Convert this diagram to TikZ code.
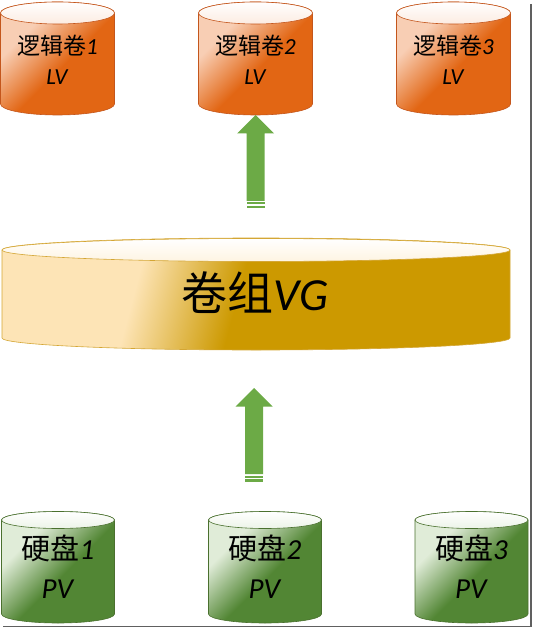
\documentclass[tikz,border=0pt]{standalone}
\usepackage{fontspec}
\setmainfont{Carlito}
\newfontfamily\cjk{Noto Sans CJK SC}
\definecolor{lvmain}{RGB}{226,102,20}
\definecolor{lvlight}{RGB}{248,206,180}
\definecolor{lvline}{RGB}{196,86,28}
\definecolor{vgmain}{RGB}{204,153,0}
\definecolor{vglight}{RGB}{253,228,182}
\definecolor{vgline}{RGB}{212,166,52}
\definecolor{pvmain}{RGB}{82,134,52}
\definecolor{pvlight}{RGB}{224,236,216}
\definecolor{pvline}{RGB}{74,112,46}
\definecolor{arrowgreen}{RGB}{108,170,70}
\definecolor{framegray}{RGB}{96,96,96}
\pgfdeclareverticalshading{lvshade}{100bp}{color(0bp)=(lvmain); color(46bp)=(lvmain); color(68bp)=(lvlight); color(100bp)=(lvlight)}
\pgfdeclareverticalshading{vgshade}{100bp}{color(0bp)=(vgmain); color(52bp)=(vgmain); color(64bp)=(vglight); color(100bp)=(vglight)}
\pgfdeclareverticalshading{pvshade}{100bp}{color(0bp)=(pvmain); color(46bp)=(pvmain); color(68bp)=(pvlight); color(100bp)=(pvlight)}
\tikzset{
  stripedup/.pic={
    \fill[arrowgreen] (0,0) -- (18.5,-18.5) -- (9,-18.5) -- (9,-86) -- (-9,-86) -- (-9,-18.5) -- (-18.5,-18.5) -- cycle;
    \fill[arrowgreen] (-9,-87.5) rectangle (9,-89.5);
    \fill[arrowgreen] (-9,-91) rectangle (9,-93.5);
  }
}
\begin{document}
\begin{tikzpicture}[x=1pt, y=1pt,
    lvbody/.style={shading=lvshade, shading angle=45, draw=lvline, line width=0.6pt},
    vgbody/.style={shading=vgshade, shading angle=75, draw=vgline, line width=0.6pt},
    pvbody/.style={shading=pvshade, shading angle=45, draw=pvline, line width=0.6pt},
    lvtext/.style={font=\fontsize{23}{26}\selectfont, inner sep=0pt},
    vgtext/.style={font=\fontsize{46}{52}\selectfont, inner sep=0pt},
    pvtext/.style={font=\fontsize{29}{33}\selectfont, inner sep=0pt}]
    \useasboundingbox (0,0) rectangle (534,-628);
    % logical volumes
    \foreach \i/\cx in {1/57.5, 2/255.5, 3/453.5} {
        \shade[lvbody] (\cx-57,-13) -- (\cx-57,-104) arc[start angle=180, end angle=360, x radius=57, y radius=11]
            -- (\cx+57,-13) arc[start angle=0, end angle=180, x radius=57, y radius=11] -- cycle;
        \shade[draw=lvline, line width=0.6pt, top color=white, bottom color=lvlight!40] (\cx,-13) ellipse[x radius=57, y radius=11];
        \node[lvtext] (lvname\i) at (\cx,-46) {{\cjk 逻辑卷}\textit{\i}};
        \node[lvtext] (lvtag\i) at (\cx,-77) {\textit{LV}};
    }
    \coordinate (lv2bot) at (255.5,-115);
    % volume group
    \shade[vgbody] (2,-250) -- (2,-338) arc[start angle=180, end angle=360, x radius=254, y radius=12]
        -- (510,-250) arc[start angle=0, end angle=180, x radius=254, y radius=12] -- cycle;
    \shade[draw=vgline, line width=0.6pt, top color=white, bottom color=vglight!40] (256,-250) ellipse[x radius=254, y radius=11.5];
    \node[vgtext] (vglabel) at (255,-293) {{\cjk 卷组}\textit{VG}};
    \coordinate (vgbot) at (254,-350);
    % physical volumes
    \foreach \i/\cx in {1/58, 2/265, 3/471.5} {
        \shade[pvbody] (\cx-56.5,-520) -- (\cx-56.5,-614) arc[start angle=180, end angle=360, x radius=56.5, y radius=9]
            -- (\cx+56.5,-520) arc[start angle=0, end angle=180, x radius=56.5, y radius=8.5] -- cycle;
        \shade[draw=pvline, line width=0.6pt, top color=white, bottom color=pvlight!60] (\cx,-520) ellipse[x radius=56.5, y radius=8.5];
        \node[pvtext] (pvname\i) at (\cx,-548) {{\cjk 硬盘}\textit{\i}};
        \node[pvtext] (pvtag\i) at (\cx,-589) {\textit{PV}};
    }
    % arrows
    \pic at (lv2bot) {stripedup};
    \pic at ([yshift=-38pt]vgbot) {stripedup};
    % frame shadow
    \draw[framegray, line width=1.8pt] (531,-4) -- (531,-626.5) -- (3,-626.5);
\end{tikzpicture}
\end{document}
